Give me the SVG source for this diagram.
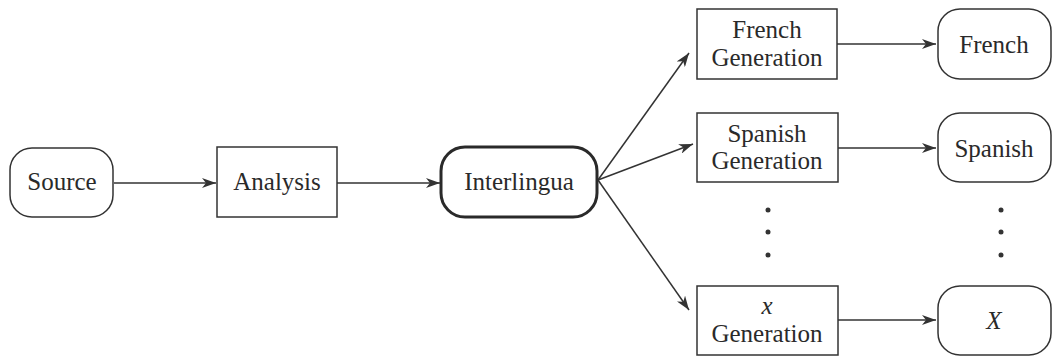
<svg xmlns="http://www.w3.org/2000/svg" width="1054" height="358" viewBox="0 0 1054 358">
  <style>
    .box { fill: #fff; stroke: #333; stroke-width: 1.5; }
    .bold { fill: #fff; stroke: #2a2a2a; stroke-width: 3; }
    .lbl { font-family: "Liberation Serif", "Times New Roman", serif; font-size: 25px; fill: #2a2a2a; text-anchor: middle; }
    .it { font-style: italic; }
    .edge { stroke: #333; stroke-width: 1.5; fill: none; marker-end: url(#arrow); }
    .dot { fill: #333; }
  </style>
  <defs>
    <marker id="arrow" viewBox="0 0 14 10" refX="14" refY="5" markerWidth="14" markerHeight="10" markerUnits="userSpaceOnUse" orient="auto">
      <path d="M0,0 L14,5 L0,10 L4,5 Z" fill="#333"/>
    </marker>
  </defs>

  <g id="connectors">
    <line class="edge" x1="114" y1="183" x2="216" y2="183"/>
    <line class="edge" x1="337" y1="183" x2="440" y2="183"/>
    <line class="edge" x1="598" y1="180" x2="689" y2="53"/>
    <line class="edge" x1="598" y1="180" x2="693" y2="144"/>
    <line class="edge" x1="598" y1="180" x2="689" y2="310"/>
    <line class="edge" x1="837" y1="44" x2="936" y2="44"/>
    <line class="edge" x1="838" y1="148" x2="936" y2="148"/>
    <line class="edge" x1="838" y1="320" x2="936" y2="320"/>
  </g>

  <g id="source">
    <rect class="box" x="10" y="148" width="103" height="69" rx="22" ry="22"/>
    <text class="lbl" x="62" y="190">Source</text>
  </g>

  <g id="analysis">
    <rect class="box" x="217" y="147" width="120" height="70"/>
    <text class="lbl" x="277" y="190">Analysis</text>
  </g>

  <g id="interlingua">
    <rect class="bold" x="441" y="147" width="156" height="70" rx="24" ry="24"/>
    <text class="lbl" x="519" y="190">Interlingua</text>
  </g>

  <g id="french-generation">
    <rect class="box" x="697" y="9" width="140" height="70"/>
    <text class="lbl" x="767" y="38">French</text>
    <text class="lbl" x="767" y="66">Generation</text>
  </g>

  <g id="french">
    <rect class="box" x="938" y="9" width="113" height="70" rx="22" ry="22"/>
    <text class="lbl" x="994" y="53">French</text>
  </g>

  <g id="spanish-generation">
    <rect class="box" x="697" y="113" width="141" height="69"/>
    <text class="lbl" x="767" y="142">Spanish</text>
    <text class="lbl" x="767" y="169">Generation</text>
  </g>

  <g id="spanish">
    <rect class="box" x="938" y="113" width="113" height="69" rx="22" ry="22"/>
    <text class="lbl" x="994" y="157">Spanish</text>
  </g>

  <g id="ellipsis-left">
    <circle class="dot" cx="768" cy="210" r="2.5"/>
    <circle class="dot" cx="768" cy="232" r="2.5"/>
    <circle class="dot" cx="768" cy="255" r="2.5"/>
  </g>

  <g id="ellipsis-right">
    <circle class="dot" cx="1001" cy="210" r="2.5"/>
    <circle class="dot" cx="1001" cy="232" r="2.5"/>
    <circle class="dot" cx="1001" cy="255" r="2.5"/>
  </g>

  <g id="x-generation">
    <rect class="box" x="697" y="286" width="141" height="69"/>
    <text class="lbl it" x="767" y="314">x</text>
    <text class="lbl" x="767" y="342">Generation</text>
  </g>

  <g id="x-target">
    <rect class="box" x="938" y="286" width="113" height="69" rx="22" ry="22"/>
    <text class="lbl it" x="994" y="329">X</text>
  </g>
</svg>
